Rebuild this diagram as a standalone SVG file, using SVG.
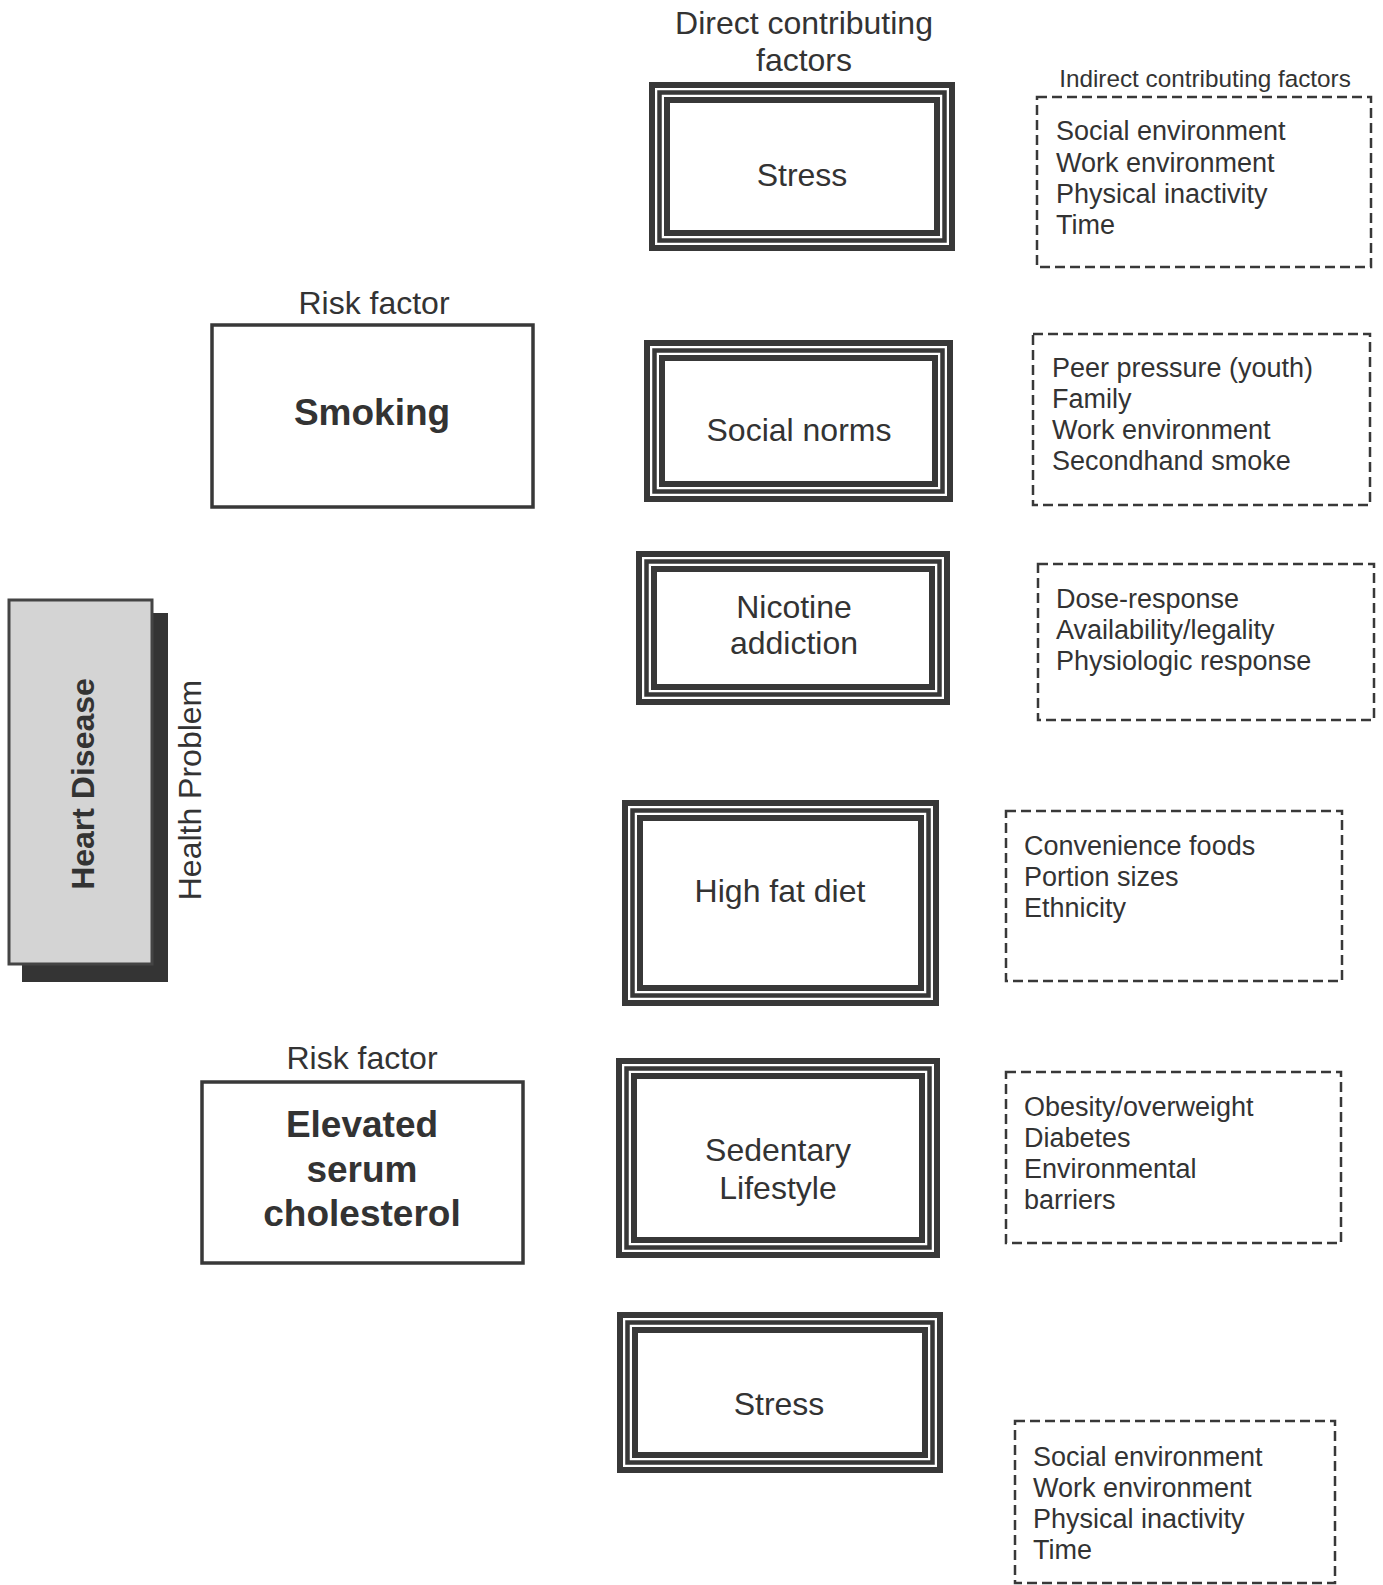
<svg xmlns="http://www.w3.org/2000/svg" width="1383" height="1585" viewBox="0 0 1383 1585">
<style>
text{font-family:"Liberation Sans",Arial,sans-serif;fill:#333}
.t{font-size:32px;text-anchor:middle}
.b{font-size:37px;font-weight:bold;text-anchor:middle}
.l{font-size:27px}
.o{fill:none;stroke:#383838;stroke-width:6}
.m{fill:none;stroke:#383838;stroke-width:4.5}
.i{fill:none;stroke:#383838;stroke-width:6}
.r{fill:#fff;stroke:#383838;stroke-width:3.5}
.d{fill:none;stroke:#383838;stroke-width:2.5;stroke-dasharray:10 5}
</style>
<rect width="1383" height="1585" fill="#fff"/>
<g id="connectors"></g>

<g id="heart-disease">
<rect x="22" y="613" width="146" height="369" fill="#343434"/>
<rect x="9" y="600" width="143" height="364" fill="#d4d4d4" stroke="#444" stroke-width="3"/>
<text class="t" transform="translate(83,784) rotate(-90)" dominant-baseline="central" style="font-weight:bold">Heart Disease</text>
</g>
<g id="health-problem-label"><text class="t" transform="translate(190,790) rotate(-90)" dominant-baseline="central">Health Problem</text></g>

<g id="header-direct">
<text class="t" x="804" y="34">Direct contributing</text>
<text class="t" x="804" y="71">factors</text>
</g>
<g id="header-indirect"><text x="1205" y="87" style="font-size:24.3px;text-anchor:middle">Indirect contributing factors</text></g>

<g id="risk-smoking">
<text class="t" x="374" y="314">Risk factor</text>
<rect class="r" x="212" y="325" width="321" height="182"/>
<text class="b" x="372" y="425">Smoking</text>
</g>
<g id="risk-cholesterol">
<text class="t" x="362" y="1069">Risk factor</text>
<rect class="r" x="202" y="1082" width="321" height="181"/>
<text class="b" x="362" y="1137">Elevated</text>
<text class="b" x="362" y="1182">serum</text>
<text class="b" x="362" y="1226">cholesterol</text>
</g>

<g id="direct-stress-1">
<rect class="o" x="652" y="85" width="300" height="163"/>
<rect class="m" x="659.5" y="92.5" width="285" height="148"/>
<rect class="i" x="667" y="100" width="270" height="133"/>
<text class="t" x="802" y="186">Stress</text>
</g>
<g id="direct-social-norms">
<rect class="o" x="647" y="343" width="303" height="156"/>
<rect class="m" x="654.5" y="350.5" width="288" height="141"/>
<rect class="i" x="662" y="358" width="273" height="126"/>
<text class="t" x="799" y="441">Social norms</text>
</g>
<g id="direct-nicotine">
<rect class="o" x="639" y="554" width="308" height="148"/>
<rect class="m" x="646.5" y="561.5" width="293" height="133"/>
<rect class="i" x="654" y="569" width="278" height="118"/>
<text class="t" x="794" y="618">Nicotine</text>
<text class="t" x="794" y="654">addiction</text>
</g>
<g id="direct-high-fat">
<rect class="o" x="625" y="803" width="311" height="200"/>
<rect class="m" x="632.5" y="810.5" width="296" height="185"/>
<rect class="i" x="640" y="818" width="281" height="170"/>
<text class="t" x="780" y="902">High fat diet</text>
</g>
<g id="direct-sedentary">
<rect class="o" x="619" y="1061" width="318" height="194"/>
<rect class="m" x="626.5" y="1068.5" width="303" height="179"/>
<rect class="i" x="634" y="1076" width="288" height="164"/>
<text class="t" x="778" y="1161">Sedentary</text>
<text class="t" x="778" y="1199">Lifestyle</text>
</g>
<g id="direct-stress-2">
<rect class="o" x="620" y="1315" width="320" height="155"/>
<rect class="m" x="627.5" y="1322.5" width="305" height="140"/>
<rect class="i" x="635" y="1330" width="290" height="125"/>
<text class="t" x="779" y="1415">Stress</text>
</g>

<g id="indirect-1">
<rect class="d" x="1037" y="97" width="334" height="170"/>
<text class="l" x="1056" y="140">Social environment</text>
<text class="l" x="1056" y="172">Work environment</text>
<text class="l" x="1056" y="203">Physical inactivity</text>
<text class="l" x="1056" y="234">Time</text>
</g>
<g id="indirect-2">
<rect class="d" x="1033" y="334" width="337" height="171"/>
<text class="l" x="1052" y="377">Peer pressure (youth)</text>
<text class="l" x="1052" y="408">Family</text>
<text class="l" x="1052" y="439">Work environment</text>
<text class="l" x="1052" y="470">Secondhand smoke</text>
</g>
<g id="indirect-3">
<rect class="d" x="1038" y="564" width="336" height="156"/>
<text class="l" x="1056" y="608">Dose-response</text>
<text class="l" x="1056" y="639">Availability/legality</text>
<text class="l" x="1056" y="670">Physiologic response</text>
</g>
<g id="indirect-4">
<rect class="d" x="1006" y="811" width="336" height="170"/>
<text class="l" x="1024" y="855">Convenience foods</text>
<text class="l" x="1024" y="886">Portion sizes</text>
<text class="l" x="1024" y="917">Ethnicity</text>
</g>
<g id="indirect-5">
<rect class="d" x="1006" y="1072" width="335" height="171"/>
<text class="l" x="1024" y="1116">Obesity/overweight</text>
<text class="l" x="1024" y="1147">Diabetes</text>
<text class="l" x="1024" y="1178">Environmental</text>
<text class="l" x="1024" y="1209">barriers</text>
</g>
<g id="indirect-6">
<rect class="d" x="1015" y="1421" width="320" height="162"/>
<text class="l" x="1033" y="1466">Social environment</text>
<text class="l" x="1033" y="1497">Work environment</text>
<text class="l" x="1033" y="1528">Physical inactivity</text>
<text class="l" x="1033" y="1559">Time</text>
</g>
</svg>
